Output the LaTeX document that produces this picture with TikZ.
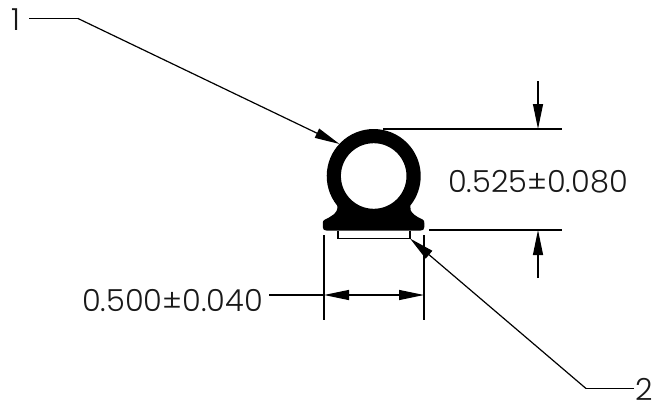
\documentclass[tikz,border=0pt]{standalone}
\usepackage{fontspec}
\setmainfont{Poppins Light}
\usetikzlibrary{arrows.meta}
\tikzset{
  dimline/.style={line width=1.2pt,black},
  dimarrow/.style={dimline,-{Triangle[length=25pt,width=10pt]}},
  dimtext/.style={font=\fontsize{30.4}{33}\selectfont,inner sep=0pt,text=black!90},
}
\begin{document}
\begin{tikzpicture}[x=1pt,y=-1pt]
\useasboundingbox (0,0) rectangle (652,404);
% profile
\fill[black,even odd rule] (373.7,176) circle[radius=32.8]
  (337.2,205.6) arc[start angle=141,end angle=399,radius=47]
  .. controls (409.5,209) and (411,212) .. (414,214.5)
  .. controls (416.5,217) and (420,218) .. (422.5,219.5)
  .. controls (424.3,220.5) and (424.3,221.5) .. (424.3,223)
  -- (424.3,227) .. controls (424.3,229.5) and (423,230.7) .. (420,230.7)
  -- (327,230.7) .. controls (324,230.7) and (322.8,229.5) .. (322.8,227)
  -- (322.8,223) .. controls (322.8,221.5) and (323,220.5) .. (325,219.5)
  .. controls (327.5,218) and (331,217) .. (333.5,214.5)
  .. controls (336.5,212) and (338,209) .. (337.2,205.6) -- cycle;
% strip
\draw[dimline] (338,231) -- (338,238.5) -- (410,238.5) -- (410,231);
% coordinates
\coordinate (l1a) at (29,18.5);
\coordinate (l1b) at (78,18.5);
\coordinate (l1t) at (339.5,144);
\coordinate (l2t) at (410,238.5);
\coordinate (l2b) at (586,388.5);
\coordinate (l2a) at (634,388.5);
\coordinate (t1) at (383,129);
\coordinate (t2) at (562,129);
\coordinate (b1) at (429,230);
\coordinate (b2) at (562,230);
\coordinate (ta) at (538,81);
\coordinate (tb) at (538,129);
\coordinate (ba) at (538,278);
\coordinate (bb) at (538,230);
\coordinate (w1a) at (324,235);
\coordinate (w1b) at (324,320);
\coordinate (w2a) at (424,235);
\coordinate (w2b) at (424,320);
\coordinate (wl) at (324,295);
\coordinate (wr) at (424,295);
\coordinate (wm) at (374,295);
\coordinate (wo) at (269,295);
% texts
\node[dimtext,anchor=center] (one) at (15.5,19.5) {1};
\node[dimtext,anchor=west] (two) at (635.5,389.5) {2};
\node[dimtext,anchor=center] (h) at (538,182) {0.525±0.080};
\node[dimtext,anchor=center] (w) at (172.5,301) {0.500±0.040};
% leaders
\draw[dimline] (l1a) -- (l1b);
\draw[dimarrow] (l1b) -- (l1t);
\draw[dimline] (l2a) -- (l2b);
\draw[dimarrow] (l2b) -- (l2t);
% vertical dim
\draw[dimline] (t1) -- (t2);
\draw[dimline] (b1) -- (b2);
\draw[dimarrow] (ta) -- (tb);
\draw[dimarrow] (ba) -- (bb);
% horizontal dim
\draw[dimline] (w1a) -- (w1b);
\draw[dimline] (w2a) -- (w2b);
\draw[dimline] (wo) -- (wl);
\draw[dimarrow] (wm) -- (wl);
\draw[dimarrow] (wm) -- (wr);
\end{tikzpicture}
\end{document}
